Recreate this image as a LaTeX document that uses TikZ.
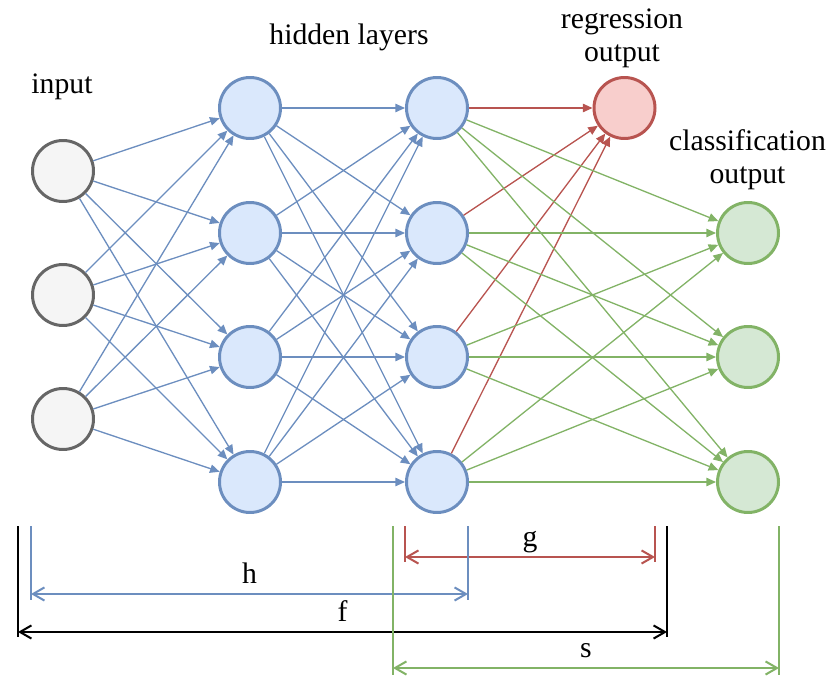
\documentclass[tikz,border=0pt]{standalone}
\usepackage{fontspec}
\setmainfont{Liberation Serif}
\usetikzlibrary{arrows.meta,positioning}
\definecolor{InkGray}{HTML}{666666}
\definecolor{InFill}{HTML}{F5F5F5}
\definecolor{HidBlue}{HTML}{6C8EBF}
\definecolor{HidFill}{HTML}{DAE8FC}
\definecolor{RegRed}{HTML}{B85450}
\definecolor{RegFill}{HTML}{F8CECC}
\definecolor{ClsGreen}{HTML}{82B366}
\definecolor{ClsFill}{HTML}{D5E8D4}

\tikzset{
  unit/.style={circle,minimum size=1.22cm,inner sep=0pt,line width=1.7pt},
  inunit/.style={unit,draw=InkGray,fill=InFill},
  hidunit/.style={unit,draw=HidBlue,fill=HidFill},
  regunit/.style={unit,draw=RegRed,fill=RegFill},
  clsunit/.style={unit,draw=ClsGreen,fill=ClsFill},
  link/.style={-{Triangle[length=5.5pt,width=4.8pt]},line width=0.75pt},
  dimline/.style={line width=1.15pt},
  dimarrow/.style={{Straight Barb[length=6.5pt,width=7.5pt]}-{Straight Barb[length=6.5pt,width=7.5pt]},line width=1.15pt},
  dimlabel/.style={midway,above=0.19cm,inner sep=0pt,text depth=0pt,text=black},
  every node/.style={font=\fontsize{16.9}{19.3}\selectfont}
}

\begin{document}
\begin{tikzpicture}[x=1cm,y=1cm]
    \useasboundingbox (0,0) rectangle (16.6,13.56);

    % layer titles
    \node[anchor=base] (tin) at (1.24,11.68) {input};
    \node[anchor=base] (thid) at (6.98,12.66) {hidden layers};
    \node[anchor=base,align=center] (treg) at (12.44,12.32) {regression\\output};
    \node[anchor=base,align=center] (tcls) at (14.95,9.88) {classification\\output};

    % units
    \foreach \i/\y in {1/10.14,2/7.66,3/5.18}
      \node[inunit] (in\i) at (1.26,\y) {};
    \foreach \i/\y in {1/11.40,2/8.90,3/6.42,4/3.92} {
      \node[hidunit] (ha\i) at (5.00,\y) {};
      \node[hidunit] (hb\i) at (8.74,\y) {};
    }
    \node[regunit] (reg) at (12.49,11.40) {};
    \foreach \i/\y in {1/8.90,2/6.42,3/3.92}
      \node[clsunit] (cls\i) at (14.96,\y) {};

    % connections
    \foreach \i in {1,2,3}
      \foreach \j in {1,...,4}
        \draw[link,HidBlue] (in\i) -- (ha\j);
    \foreach \i in {1,...,4}
      \foreach \j in {1,...,4}
        \draw[link,HidBlue] (ha\i) -- (hb\j);
    \foreach \i in {1,...,4}
      \draw[link,RegRed] (hb\i) -- (reg);
    \foreach \i in {1,...,4}
      \foreach \j in {1,2,3}
        \draw[link,ClsGreen] (hb\i) -- (cls\j);

    % spans
    \coordinate (g1) at (8.10,2.42);
    \coordinate (g2) at (13.10,2.42);
    \draw[dimline,RegRed] (8.10,3.04) -- (8.10,2.32);
    \draw[dimline,RegRed] (13.10,3.04) -- (13.10,2.32);
    \draw[dimarrow,RegRed] (g1) -- node[dimlabel] {g} (g2);

    \coordinate (h1) at (0.62,1.68);
    \coordinate (h2) at (9.36,1.68);
    \draw[dimline,HidBlue] (0.62,3.04) -- (0.62,1.56);
    \draw[dimline,HidBlue] (9.36,3.04) -- (9.36,1.56);
    \draw[dimarrow,HidBlue] (h1) -- node[dimlabel] {h} (h2);

    \coordinate (f1) at (0.36,0.92);
    \coordinate (f2) at (13.34,0.92);
    \draw[dimline,black] (0.36,3.04) -- (0.36,0.82);
    \draw[dimline,black] (13.34,3.04) -- (13.34,0.82);
    \draw[dimarrow,black] (f1) -- node[dimlabel] {f} (f2);

    \coordinate (s1) at (7.86,0.20);
    \coordinate (s2) at (15.58,0.20);
    \draw[dimline,ClsGreen] (7.86,3.04) -- (7.86,0.06);
    \draw[dimline,ClsGreen] (15.58,3.04) -- (15.58,0.06);
    \draw[dimarrow,ClsGreen] (s1) -- node[dimlabel] {s} (s2);
  \end{tikzpicture}
\end{document}
